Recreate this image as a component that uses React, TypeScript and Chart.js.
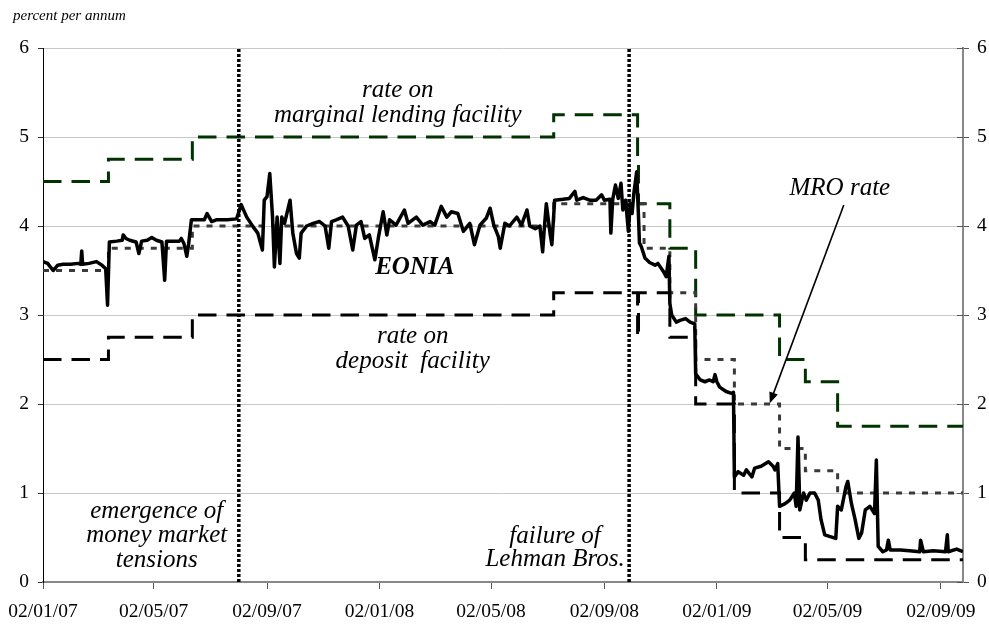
import React, { useEffect, useRef } from 'react';
import { Chart, registerables } from 'chart.js';

Chart.register(...registerables);

// x values are calendar days counted from 02/01/2007
const tickDays = [0, 120, 243, 365, 486, 609, 731, 851, 974];
const tickLabels = ['02/01/07', '02/05/07', '02/09/07', '02/01/08', '02/05/08', '02/09/08', '02/01/09', '02/05/09', '02/09/09'];
const xMin = 0;
const xMax = 998;
const yMin = 0;
const yMax = 6;

const eoniaDays = [
  0, 5, 11, 16, 22, 30, 38, 41, 42, 43, 50, 58, 64, 68, 70, 72, 80, 86, 87, 90,
  94, 101, 104, 107, 113, 118, 123, 129, 132, 134, 142, 148, 150, 153, 156, 158, 161, 168, 175, 178,
  183, 188, 200, 210, 215, 221, 228, 233, 238, 240, 243, 246, 249, 251, 254, 257, 259, 262, 268, 271,
  275, 278, 280, 286, 293, 300, 306, 310, 313, 318, 325, 331, 336, 340, 345, 349, 354, 360, 364, 369,
  373, 376, 383, 392, 396, 405, 412, 420, 425, 432, 438, 443, 450, 456, 463, 468, 474, 481, 485, 489,
  494, 496, 501, 506, 514, 519, 525, 528, 534, 539, 542, 544, 546, 550, 552, 555, 564, 571, 577, 579,
  586, 593, 600, 606, 609, 615, 616, 618, 621, 624, 627, 629, 632, 635, 637, 639, 641, 644, 646, 647,
  649, 653, 658, 664, 667, 673, 676, 679, 680, 682, 687, 691, 697, 702, 707, 708, 713, 718, 723, 727,
  729, 731, 734, 741, 747, 749, 750, 754, 760, 763, 769, 772, 779, 787, 792, 794, 797, 799, 805, 810,
  815, 817, 819, 821, 825, 828, 832, 837, 841, 844, 848, 854, 860, 862, 866, 871, 873, 877, 881, 885,
  888, 892, 897, 902, 904, 906, 911, 915, 917, 919, 930, 940, 951, 952, 955, 966, 979, 981, 982, 991,
  998,
];
const eoniaRates = [
  3.60, 3.58, 3.50, 3.56, 3.57, 3.57, 3.58, 3.57, 3.72, 3.57, 3.58, 3.60, 3.56, 3.52, 3.11, 3.82, 3.83, 3.84, 3.90, 3.86,
  3.84, 3.82, 3.69, 3.83, 3.84, 3.87, 3.84, 3.82, 3.39, 3.83, 3.83, 3.83, 3.86, 3.80, 3.66, 3.80, 4.07, 4.07, 4.07, 4.14,
  4.05, 4.07, 4.07, 4.08, 4.24, 4.10, 3.99, 3.92, 3.73, 4.29, 4.33, 4.59, 4.10, 3.54, 4.10, 3.58, 4.10, 4.03, 4.29, 3.92,
  3.69, 3.64, 3.92, 4.00, 4.03, 4.05, 4.00, 3.75, 4.05, 4.07, 4.10, 4.00, 3.73, 4.01, 4.05, 3.86, 3.90, 3.62, 3.88, 4.16,
  3.90, 4.07, 4.01, 4.18, 4.03, 4.10, 4.01, 4.05, 4.01, 4.22, 4.10, 4.16, 4.14, 3.94, 4.03, 3.79, 4.01, 4.09, 4.20, 4.01,
  3.88, 3.75, 4.03, 4.00, 4.10, 4.01, 4.18, 4.00, 3.97, 4.00, 3.71, 4.00, 4.25, 3.92, 3.79, 4.29, 4.30, 4.31, 4.39, 4.29,
  4.32, 4.29, 4.29, 4.35, 4.29, 4.30, 3.92, 4.30, 4.46, 4.31, 4.48, 4.18, 4.29, 3.94, 4.25, 4.14, 4.37, 4.61, 4.10, 3.81,
  3.77, 3.64, 3.59, 3.56, 3.58, 3.49, 3.43, 3.66, 3.13, 3.00, 2.92, 2.94, 2.96, 2.92, 2.90, 2.34, 2.27, 2.25, 2.27, 2.25,
  2.33, 2.25, 2.19, 2.14, 2.12, 2.13, 1.18, 1.24, 1.20, 1.26, 1.18, 1.28, 1.30, 1.35, 1.30, 1.26, 1.33, 0.85, 0.88, 0.92,
  1.00, 0.85, 1.63, 0.81, 1.00, 0.92, 1.00, 1.00, 0.92, 0.70, 0.53, 0.51, 0.49, 0.85, 0.81, 1.07, 1.13, 0.88, 0.70, 0.49,
  0.55, 0.81, 0.85, 0.77, 1.37, 0.40, 0.34, 0.36, 0.47, 0.36, 0.36, 0.35, 0.34, 0.47, 0.34, 0.35, 0.34, 0.53, 0.34, 0.37,
  0.34,
];

// Official rates: each value holds from its day until the next change
const mlfDays = [0, 71, 162, 554, 645, 646, 680, 708, 799, 827, 862, 998];
const mlfRates = [4.5, 4.75, 5.0, 5.25, 4.75, 4.25, 3.75, 3.0, 2.5, 2.25, 1.75, 1.75];
const depDays = [0, 71, 162, 554, 645, 646, 680, 708, 750, 799, 827, 998];
const depRates = [2.5, 2.75, 3.0, 3.25, 2.75, 3.25, 2.75, 2.0, 1.0, 0.5, 0.25, 0.25];
const mroDays = [0, 71, 162, 554, 652, 680, 708, 750, 799, 827, 862, 998];
const mroRates = [3.5, 3.75, 4.0, 4.25, 3.75, 3.25, 2.5, 2.0, 1.5, 1.25, 1.0, 1.0];

// event markers (emergence of tensions, failure of Lehman Bros.)
const eventDays = [212.4, 635.8];

const notes = [
  { text: 'rate on', day: 384.8, value: 5.449, bold: false },
  { text: 'marginal lending facility', day: 384.8, value: 5.169, bold: false },
  { text: 'EONIA', day: 403.3, value: 3.461, bold: true },
  { text: 'rate on', day: 401, value: 2.689, bold: false },
  { text: 'deposit  facility', day: 401, value: 2.408, bold: false },
  { text: 'MRO rate', day: 864.4, value: 4.348, bold: false },
  { text: 'emergence of', day: 123.4, value: 0.716, bold: false },
  { text: 'money market', day: 123.4, value: 0.453, bold: false },
  { text: 'tensions', day: 123.4, value: 0.172, bold: false },
  { text: 'failure of', day: 555.5, value: 0.442, bold: false },
  { text: 'Lehman Bros.', day: 555.5, value: 0.18, bold: false },
];
const arrowFrom = { day: 868.7, value: 4.236 };
const arrowTo = { day: 788.4, value: 2.008 };

const SERIF = '"Liberation Serif", "Times New Roman", serif';

const toXY = (days: number[], vals: number[]) => days.map((d, i) => ({ x: d, y: vals[i] }));

const overlayPlugin = {
  id: 'overlay',
  afterDatasetsDraw(chart: any) {
    const { ctx, chartArea } = chart;
    const xs = chart.scales.x;
    const ys = chart.scales.y;
    ctx.save();
    // inner half of the right axis cross tick marks
    ctx.strokeStyle = '#555';
    ctx.lineWidth = 1;
    for (let v = yMin; v <= yMax; v++) {
      const py = Math.round(ys.getPixelForValue(v)) + 0.5;
      ctx.beginPath();
      ctx.moveTo(chartArea.right - 6, py);
      ctx.lineTo(chartArea.right, py);
      ctx.stroke();
    }
    // text notes
    ctx.fillStyle = '#000';
    ctx.textAlign = 'center';
    ctx.textBaseline = 'alphabetic';
    for (const n of notes) {
      ctx.font = `italic ${n.bold ? 'bold ' : ''}25px ${SERIF}`;
      ctx.fillText(n.text, xs.getPixelForValue(n.day), ys.getPixelForValue(n.value));
    }
    // arrow
    const x1 = xs.getPixelForValue(arrowFrom.day);
    const y1 = ys.getPixelForValue(arrowFrom.value);
    const x2 = xs.getPixelForValue(arrowTo.day);
    const y2 = ys.getPixelForValue(arrowTo.value);
    const ang = Math.atan2(y2 - y1, x2 - x1);
    const hl = 11;
    const hw = 4.5;
    ctx.strokeStyle = '#000';
    ctx.lineWidth = 1.6;
    ctx.beginPath();
    ctx.moveTo(x1, y1);
    ctx.lineTo(x2 - Math.cos(ang) * (hl - 2), y2 - Math.sin(ang) * (hl - 2));
    ctx.stroke();
    ctx.beginPath();
    ctx.moveTo(x2, y2);
    ctx.lineTo(x2 - Math.cos(ang) * hl - Math.sin(ang) * hw, y2 - Math.sin(ang) * hl + Math.cos(ang) * hw);
    ctx.lineTo(x2 - Math.cos(ang) * hl + Math.sin(ang) * hw, y2 - Math.sin(ang) * hl - Math.cos(ang) * hw);
    ctx.closePath();
    ctx.fill();
    // unit label
    ctx.textAlign = 'left';
    ctx.font = `italic 15px ${SERIF}`;
    ctx.fillText('percent per annum', 13, 19.5);
    ctx.restore();
  },
};

export default function App() {
  const ref = useRef<HTMLCanvasElement | null>(null);

  useEffect(() => {
    if (!ref.current) return;
    Chart.defaults.font.family = SERIF;
    const eventSets = eventDays.map((d) => ({
      type: 'line' as const,
      data: [{ x: d, y: yMin }, { x: d, y: yMax }],
      borderColor: '#000',
      borderWidth: 3.5,
      borderDash: [3, 2],
      pointRadius: 0,
      fill: false,
    }));
    const chart = new Chart(ref.current, {
      type: 'line',
      data: {
        datasets: [
          ...eventSets,
          {
            data: toXY(eoniaDays, eoniaRates),
            borderColor: '#000',
            borderWidth: 3.5,
            borderJoinStyle: 'round',
            pointRadius: 0,
            fill: false,
          },
          {
            data: toXY(mroDays, mroRates),
            borderColor: '#3a3a3a',
            borderWidth: 3,
            borderDash: [6, 7],
            stepped: 'before',
            pointRadius: 0,
            fill: false,
          },
          {
            data: toXY(depDays, depRates),
            borderColor: '#000',
            borderWidth: 3,
            borderDash: [18.5, 10],
            stepped: 'before',
            pointRadius: 0,
            fill: false,
          },
          {
            data: toXY(mlfDays, mlfRates),
            borderColor: '#003300',
            borderWidth: 3,
            borderDash: [18.5, 10],
            stepped: 'before',
            pointRadius: 0,
            fill: false,
          },
        ] as any,
      },
      options: {
        responsive: false,
        animation: false,
        devicePixelRatio: 1,
        events: [],
        layout: { padding: { top: 48, left: 0, right: 0, bottom: 0 } },
        plugins: { legend: { display: false }, tooltip: { enabled: false }, title: { display: false } },
        scales: {
          x: {
            type: 'linear',
            min: xMin,
            max: xMax,
            position: 'bottom',
            afterBuildTicks: (scale: any) => {
              scale.ticks = tickDays.map((v) => ({ value: v }));
            },
            afterFit: (scale: any) => {
              scale.height = 43;
            },
            ticks: {
              autoSkip: false,
              maxRotation: 0,
              minRotation: 0,
              padding: 8,
              color: '#000',
              font: { family: SERIF, size: 19.5, lineHeight: 1.5 },
              callback: (v: any) => {
                const i = tickDays.indexOf(Number(v));
                return i >= 0 ? tickLabels[i] : '';
              },
            },
            grid: { drawOnChartArea: false, drawTicks: true, tickLength: 7, tickColor: '#555' },
            border: { color: '#888', width: 2 },
          },
          y: {
            type: 'linear',
            position: 'left',
            min: yMin,
            max: yMax,
            afterFit: (scale: any) => {
              scale.width = 43;
            },
            ticks: { stepSize: 1, padding: 9, color: '#000', font: { family: SERIF, size: 19.5 } },
            grid: { color: '#c8c8c8', lineWidth: 1, tickLength: 5, tickColor: '#333' },
            border: { color: '#000', width: 1 },
          },
          y2: {
            type: 'linear',
            position: 'right',
            min: yMin,
            max: yMax,
            afterFit: (scale: any) => {
              scale.width = 26;
            },
            ticks: { stepSize: 1, padding: 8, color: '#000', font: { family: SERIF, size: 19.5 } },
            grid: { drawOnChartArea: false, tickLength: 6, tickColor: '#555' },
            border: { color: '#888', width: 2 },
          },
        },
      } as any,
      plugins: [overlayPlugin],
    });
    return () => chart.destroy();
  }, []);

  return (
    <div style={{ position: 'absolute', left: 0, top: 0, width: 989, height: 625, background: '#fff' }}>
      <canvas ref={ref} width={989} height={625} style={{ display: 'block' }} />
    </div>
  );
}
